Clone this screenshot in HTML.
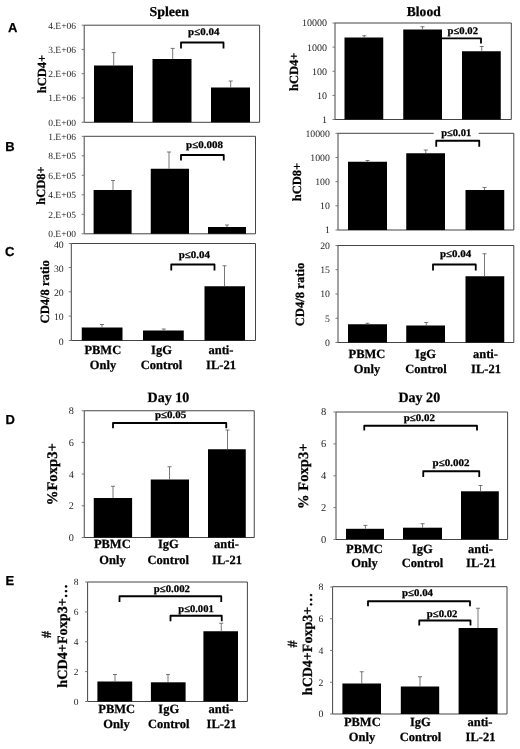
<!DOCTYPE html>
<html><head><meta charset="utf-8"><title>Figure</title>
<style>
html,body{margin:0;padding:0;background:#fff;}
body{width:520px;height:749px;overflow:hidden;}
svg{display:block;font-family:"Liberation Serif", serif;fill:#000;text-rendering:geometricPrecision;}
text[font-weight=bold]{stroke:#000;stroke-width:0.25px;}
</style></head><body>
<svg width="520" height="749" viewBox="0 0 520 749">
<rect width="520" height="749" fill="#fff"/>
<path d="M84.2 25.2V122.3H259.6V25.2" fill="none" stroke="#444" stroke-width="1"/>
<path d="M84.2 25.2H259.6" fill="none" stroke="#444" stroke-width="1"/>
<path d="M81.7 25.2H84.2" stroke="#777" stroke-width="1"/>
<text x="76" y="28.60" text-anchor="end" font-size="9.5" fill="#262626">4.E+06</text>
<path d="M81.7 49.5H84.2" stroke="#777" stroke-width="1"/>
<text x="76" y="52.90" text-anchor="end" font-size="9.5" fill="#262626">3.E+06</text>
<path d="M81.7 73.7H84.2" stroke="#777" stroke-width="1"/>
<text x="76" y="77.10" text-anchor="end" font-size="9.5" fill="#262626">2.E+06</text>
<path d="M81.7 98H84.2" stroke="#777" stroke-width="1"/>
<text x="76" y="101.40" text-anchor="end" font-size="9.5" fill="#262626">1.E+06</text>
<path d="M81.7 122.3H84.2" stroke="#777" stroke-width="1"/>
<text x="76" y="125.70" text-anchor="end" font-size="9.5" fill="#262626">0.E+00</text>
<rect x="94" y="65.5" width="39.00" height="56.80" fill="#000"/>
<path d="M113.7 65.5V52.6M111.7 52.6H115.7" stroke="#555" stroke-width="0.8" fill="none"/>
<rect x="152.5" y="59" width="39.00" height="63.30" fill="#000"/>
<path d="M172.7 59V48.4M170.7 48.4H174.7" stroke="#555" stroke-width="0.8" fill="none"/>
<rect x="211" y="87.5" width="39.00" height="34.80" fill="#000"/>
<path d="M230.7 87.5V81M228.7 81H232.7" stroke="#555" stroke-width="0.8" fill="none"/>
<path d="M181 48.5V42.5H223.5V48.5" stroke="#000" stroke-width="1.8" stroke-linejoin="round" fill="none"/>
<text x="188.1" y="35.25" font-size="10.1" font-weight="bold" textLength="31.30" lengthAdjust="spacingAndGlyphs">p≤0.04</text>
<text transform="translate(45.5 74) rotate(-90)" text-anchor="middle" font-size="12.5" font-weight="bold">hCD4+</text>
<text x="149.5" y="16" font-size="13.6" font-weight="bold" textLength="39.50" lengthAdjust="spacingAndGlyphs">Spleen</text>
<text x="7.9" y="31.5" font-family='"Liberation Sans", sans-serif' font-size="13" font-weight="bold">A</text>
<path d="M84.2 136.3V233.8H255.5V136.3" fill="none" stroke="#444" stroke-width="1"/>
<path d="M84.2 136.3H255.5" fill="none" stroke="#444" stroke-width="1"/>
<path d="M81.7 136.3H84.2" stroke="#777" stroke-width="1"/>
<text x="76" y="139.70" text-anchor="end" font-size="9.5" fill="#262626">1.E+06</text>
<path d="M81.7 155.8H84.2" stroke="#777" stroke-width="1"/>
<text x="76" y="159.20" text-anchor="end" font-size="9.5" fill="#262626">8.E+05</text>
<path d="M81.7 175.3H84.2" stroke="#777" stroke-width="1"/>
<text x="76" y="178.70" text-anchor="end" font-size="9.5" fill="#262626">6.E+05</text>
<path d="M81.7 194.8H84.2" stroke="#777" stroke-width="1"/>
<text x="76" y="198.20" text-anchor="end" font-size="9.5" fill="#262626">4.E+05</text>
<path d="M81.7 214.3H84.2" stroke="#777" stroke-width="1"/>
<text x="76" y="217.70" text-anchor="end" font-size="9.5" fill="#262626">2.E+05</text>
<path d="M81.7 233.8H84.2" stroke="#777" stroke-width="1"/>
<text x="76" y="237.20" text-anchor="end" font-size="9.5" fill="#262626">0.E+00</text>
<rect x="93.6" y="190" width="38.00" height="43.80" fill="#000"/>
<path d="M113 190V180.5M111 180.5H115" stroke="#555" stroke-width="0.8" fill="none"/>
<rect x="150.75" y="168.75" width="38.25" height="65.05" fill="#000"/>
<path d="M169 168.75V152M167 152H171" stroke="#555" stroke-width="0.8" fill="none"/>
<rect x="208" y="227" width="38.00" height="6.80" fill="#000"/>
<path d="M227 227V225M225 225H229" stroke="#555" stroke-width="0.8" fill="none"/>
<path d="M181 160.5V155H223.75V160.5" stroke="#000" stroke-width="1.8" stroke-linejoin="round" fill="none"/>
<text x="186" y="148" font-size="10.1" font-weight="bold" textLength="37.00" lengthAdjust="spacingAndGlyphs">p≤0.008</text>
<text transform="translate(45.3 185.6) rotate(-90)" text-anchor="middle" font-size="12.5" font-weight="bold">hCD8+</text>
<text x="5.3" y="150.8" font-family='"Liberation Sans", sans-serif' font-size="13" font-weight="bold">B</text>
<path d="M71.3 243.5V340.5H255.5V243.5" fill="none" stroke="#444" stroke-width="1"/>
<path d="M71.3 243.5H255.5" fill="none" stroke="#444" stroke-width="1"/>
<path d="M68.8 243.5H71.3" stroke="#777" stroke-width="1"/>
<text x="63.7" y="247.60" text-anchor="end" font-size="9.8" fill="#262626">40</text>
<path d="M68.8 267.5H71.3" stroke="#777" stroke-width="1"/>
<text x="63.7" y="271.60" text-anchor="end" font-size="9.8" fill="#262626">30</text>
<path d="M68.8 291.8H71.3" stroke="#777" stroke-width="1"/>
<text x="63.7" y="295.90" text-anchor="end" font-size="9.8" fill="#262626">20</text>
<path d="M68.8 316.1H71.3" stroke="#777" stroke-width="1"/>
<text x="63.7" y="320.20" text-anchor="end" font-size="9.8" fill="#262626">10</text>
<path d="M68.8 340.5H71.3" stroke="#777" stroke-width="1"/>
<text x="63.7" y="344.60" text-anchor="end" font-size="9.8" fill="#262626">0</text>
<rect x="81.75" y="327.5" width="40.75" height="13.00" fill="#000"/>
<path d="M102 327.5V324.5M100 324.5H104" stroke="#555" stroke-width="0.8" fill="none"/>
<rect x="143" y="330.5" width="40.75" height="10.00" fill="#000"/>
<path d="M163.75 330.5V329M161.75 329H165.75" stroke="#555" stroke-width="0.8" fill="none"/>
<rect x="204.5" y="286.25" width="40.50" height="54.25" fill="#000"/>
<path d="M224.5 286.25V265.75M222.5 265.75H226.5" stroke="#555" stroke-width="0.8" fill="none"/>
<path d="M171.25 270.5V264.5H214.5V270.5" stroke="#000" stroke-width="1.8" stroke-linejoin="round" fill="none"/>
<text x="178.75" y="257.5" font-size="10.1" font-weight="bold" textLength="31.25" lengthAdjust="spacingAndGlyphs">p≤0.04</text>
<text transform="translate(48.7 291.75) rotate(-90)" text-anchor="middle" font-size="12.6" font-weight="bold">CD4/8 ratio</text>
<text x="5.1" y="255.5" font-family='"Liberation Sans", sans-serif' font-size="13" font-weight="bold">C</text>
<text x="102.8" y="353.8" text-anchor="middle" font-size="12.5" font-weight="bold">PBMC</text>
<text x="103" y="368.5" text-anchor="middle" font-size="12.5" font-weight="bold">Only</text>
<text x="161.5" y="353.8" text-anchor="middle" font-size="12.5" font-weight="bold">IgG</text>
<text x="161.5" y="368.5" text-anchor="middle" font-size="12.5" font-weight="bold">Control</text>
<text x="221" y="353.8" text-anchor="middle" font-size="12.5" font-weight="bold">anti-</text>
<text x="221" y="368.5" text-anchor="middle" font-size="12.5" font-weight="bold">IL-21</text>
<path d="M335 23V119.5H511.3V23" fill="none" stroke="#444" stroke-width="1"/>
<path d="M335 23H511.3" fill="none" stroke="#444" stroke-width="1"/>
<path d="M332.5 23H335" stroke="#777" stroke-width="1"/>
<text x="327" y="26.40" text-anchor="end" font-size="10" fill="#262626">10000</text>
<path d="M332.5 47.1H335" stroke="#777" stroke-width="1"/>
<text x="327" y="50.50" text-anchor="end" font-size="10" fill="#262626">1000</text>
<path d="M332.5 71.25H335" stroke="#777" stroke-width="1"/>
<text x="327" y="74.65" text-anchor="end" font-size="10" fill="#262626">100</text>
<path d="M332.5 95.4H335" stroke="#777" stroke-width="1"/>
<text x="327" y="98.80" text-anchor="end" font-size="10" fill="#262626">10</text>
<path d="M332.5 119.5H335" stroke="#777" stroke-width="1"/>
<text x="327" y="122.90" text-anchor="end" font-size="10" fill="#262626">1</text>
<rect x="344.5" y="37.5" width="38.75" height="82.00" fill="#000"/>
<path d="M364.25 37.5V35.75M362.25 35.75H366.25" stroke="#555" stroke-width="0.8" fill="none"/>
<rect x="403.25" y="29.5" width="38.75" height="90.00" fill="#000"/>
<path d="M422.5 29.5V26.75M420.5 26.75H424.5" stroke="#555" stroke-width="0.8" fill="none"/>
<rect x="462" y="51.25" width="38.75" height="68.25" fill="#000"/>
<path d="M481.75 51.25V46.5M479.75 46.5H483.75" stroke="#555" stroke-width="0.8" fill="none"/>
<path d="M441.5 38.4H481V43.5" stroke="#000" stroke-width="1.8" stroke-linejoin="round" fill="none"/>
<text x="447.5" y="33.75" font-size="10.1" font-weight="bold" textLength="30.50" lengthAdjust="spacingAndGlyphs">p≤0.02</text>
<text transform="translate(297.5 71.8) rotate(-90)" text-anchor="middle" font-size="12.5" font-weight="bold">hCD4+</text>
<text x="406.8" y="16" font-size="13.6" font-weight="bold" textLength="33.90" lengthAdjust="spacingAndGlyphs">Blood</text>
<path d="M338 133.3V230H513.8V133.3" fill="none" stroke="#444" stroke-width="1"/>
<path d="M338 133.3H433.75M478.75 133.3H513.8" fill="none" stroke="#444" stroke-width="1"/>
<path d="M335.5 133.3H338" stroke="#777" stroke-width="1"/>
<text x="329.9" y="136.70" text-anchor="end" font-size="9.8" fill="#262626">10000</text>
<path d="M335.5 157.5H338" stroke="#777" stroke-width="1"/>
<text x="329.9" y="160.90" text-anchor="end" font-size="9.8" fill="#262626">1000</text>
<path d="M335.5 181.65H338" stroke="#777" stroke-width="1"/>
<text x="329.9" y="185.05" text-anchor="end" font-size="9.8" fill="#262626">100</text>
<path d="M335.5 205.8H338" stroke="#777" stroke-width="1"/>
<text x="329.9" y="209.20" text-anchor="end" font-size="9.8" fill="#262626">10</text>
<path d="M335.5 230H338" stroke="#777" stroke-width="1"/>
<text x="329.9" y="233.40" text-anchor="end" font-size="9.8" fill="#262626">1</text>
<rect x="348" y="161.75" width="39.00" height="68.25" fill="#000"/>
<path d="M367.5 161.75V160.5M365.5 160.5H369.5" stroke="#555" stroke-width="0.8" fill="none"/>
<rect x="406.25" y="153.25" width="38.75" height="76.75" fill="#000"/>
<path d="M425.75 153.25V150M423.75 150H427.75" stroke="#555" stroke-width="0.8" fill="none"/>
<rect x="465.5" y="190" width="38.75" height="40.00" fill="#000"/>
<path d="M484.5 190V187.5M482.5 187.5H486.5" stroke="#555" stroke-width="0.8" fill="none"/>
<path d="M436.25 146.75V140.75H479.25V146.75" stroke="#000" stroke-width="1.8" stroke-linejoin="round" fill="none"/>
<text x="441.25" y="135.5" font-size="10.1" font-weight="bold" textLength="30.00" lengthAdjust="spacingAndGlyphs">p≤0.01</text>
<text transform="translate(300.5 182) rotate(-90)" text-anchor="middle" font-size="12.5" font-weight="bold">hCD8+</text>
<path d="M338 245.5V342.5H513.8V245.5" fill="none" stroke="#444" stroke-width="1"/>
<path d="M338 245.5H513.8" fill="none" stroke="#444" stroke-width="1"/>
<path d="M335.5 245.5H338" stroke="#777" stroke-width="1"/>
<text x="330" y="248.90" text-anchor="end" font-size="9.8" fill="#262626">20</text>
<path d="M335.5 269.75H338" stroke="#777" stroke-width="1"/>
<text x="330" y="273.15" text-anchor="end" font-size="9.8" fill="#262626">15</text>
<path d="M335.5 294H338" stroke="#777" stroke-width="1"/>
<text x="330" y="297.40" text-anchor="end" font-size="9.8" fill="#262626">10</text>
<path d="M335.5 318.25H338" stroke="#777" stroke-width="1"/>
<text x="330" y="321.65" text-anchor="end" font-size="9.8" fill="#262626">5</text>
<path d="M335.5 342.5H338" stroke="#777" stroke-width="1"/>
<text x="330" y="345.90" text-anchor="end" font-size="9.8" fill="#262626">0</text>
<rect x="348" y="324.25" width="39.00" height="18.25" fill="#000"/>
<path d="M367.5 324.25V323.25M365.5 323.25H369.5" stroke="#555" stroke-width="0.8" fill="none"/>
<rect x="406.25" y="325.5" width="38.75" height="17.00" fill="#000"/>
<path d="M426.25 325.5V322.5M424.25 322.5H428.25" stroke="#555" stroke-width="0.8" fill="none"/>
<rect x="465.5" y="276.25" width="38.75" height="66.25" fill="#000"/>
<path d="M484.5 276.25V253.75M482.5 253.75H486.5" stroke="#555" stroke-width="0.8" fill="none"/>
<path d="M433 270.5V264.5H475.75V270.5" stroke="#000" stroke-width="1.8" stroke-linejoin="round" fill="none"/>
<text x="440" y="256.75" font-size="10.1" font-weight="bold" textLength="31.25" lengthAdjust="spacingAndGlyphs">p≤0.04</text>
<text transform="translate(304.2 294.5) rotate(-90)" text-anchor="middle" font-size="12.65" font-weight="bold">CD4/8 ratio</text>
<text x="367" y="358.4" text-anchor="middle" font-size="12.5" font-weight="bold">PBMC</text>
<text x="367" y="372.6" text-anchor="middle" font-size="12.5" font-weight="bold">Only</text>
<text x="425.5" y="358.4" text-anchor="middle" font-size="12.5" font-weight="bold">IgG</text>
<text x="426" y="372.6" text-anchor="middle" font-size="12.5" font-weight="bold">Control</text>
<text x="485.5" y="358.4" text-anchor="middle" font-size="12.5" font-weight="bold">anti-</text>
<text x="486" y="372.6" text-anchor="middle" font-size="12.5" font-weight="bold">IL-21</text>
<path d="M84.25 410.75V537.5H254.25V410.75" fill="none" stroke="#444" stroke-width="1"/>
<path d="M84.25 410.75H254.25" fill="none" stroke="#444" stroke-width="1"/>
<path d="M81.75 410.75H84.25" stroke="#777" stroke-width="1"/>
<text x="73.8" y="414.15" text-anchor="end" font-size="10.2" fill="#262626">8</text>
<path d="M81.75 442.4H84.25" stroke="#777" stroke-width="1"/>
<text x="73.8" y="445.80" text-anchor="end" font-size="10.2" fill="#262626">6</text>
<path d="M81.75 474.1H84.25" stroke="#777" stroke-width="1"/>
<text x="73.8" y="477.50" text-anchor="end" font-size="10.2" fill="#262626">4</text>
<path d="M81.75 505.8H84.25" stroke="#777" stroke-width="1"/>
<text x="73.8" y="509.20" text-anchor="end" font-size="10.2" fill="#262626">2</text>
<path d="M81.75 537.5H84.25" stroke="#777" stroke-width="1"/>
<text x="73.8" y="540.90" text-anchor="end" font-size="10.2" fill="#262626">0</text>
<rect x="93.75" y="498" width="38.35" height="39.50" fill="#000"/>
<path d="M113 498V486.25M111 486.25H115" stroke="#555" stroke-width="0.8" fill="none"/>
<rect x="150.75" y="479.5" width="38.25" height="58.00" fill="#000"/>
<path d="M169.5 479.5V466.75M167.5 466.75H171.5" stroke="#555" stroke-width="0.8" fill="none"/>
<rect x="208" y="449.25" width="37.75" height="88.25" fill="#000"/>
<path d="M227.5 449.25V430M225.5 430H229.5" stroke="#555" stroke-width="0.8" fill="none"/>
<path d="M113 428.3V423H226.25V428.3" stroke="#000" stroke-width="1.8" stroke-linejoin="round" fill="none"/>
<text x="155" y="418" font-size="10.1" font-weight="bold" textLength="31.25" lengthAdjust="spacingAndGlyphs">p≤0.05</text>
<text transform="translate(56.5 474.2) rotate(-90)" text-anchor="middle" font-size="14.7" font-weight="bold">%Foxp3+</text>
<text x="147.5" y="402" font-size="14.2" font-weight="bold" textLength="41.75" lengthAdjust="spacingAndGlyphs">Day 10</text>
<text x="5.4" y="423.8" font-family='"Liberation Sans", sans-serif' font-size="13" font-weight="bold">D</text>
<text x="112.3" y="548.4" text-anchor="middle" font-size="12.5" font-weight="bold">PBMC</text>
<text x="112.5" y="563.5" text-anchor="middle" font-size="12.5" font-weight="bold">Only</text>
<text x="168.3" y="548.4" text-anchor="middle" font-size="12.5" font-weight="bold">IgG</text>
<text x="168.3" y="563.5" text-anchor="middle" font-size="12.5" font-weight="bold">Control</text>
<text x="226.5" y="548.4" text-anchor="middle" font-size="12.5" font-weight="bold">anti-</text>
<text x="227" y="563.5" text-anchor="middle" font-size="12.5" font-weight="bold">IL-21</text>
<path d="M336 412V539.5H507.6V412" fill="none" stroke="#444" stroke-width="1"/>
<path d="M336 412H507.6" fill="none" stroke="#444" stroke-width="1"/>
<path d="M333.5 412H336" stroke="#777" stroke-width="1"/>
<text x="326.3" y="415.10" text-anchor="end" font-size="10.5" fill="#262626">8</text>
<path d="M333.5 443.9H336" stroke="#777" stroke-width="1"/>
<text x="326.3" y="447.00" text-anchor="end" font-size="10.5" fill="#262626">6</text>
<path d="M333.5 475.8H336" stroke="#777" stroke-width="1"/>
<text x="326.3" y="478.90" text-anchor="end" font-size="10.5" fill="#262626">4</text>
<path d="M333.5 507.6H336" stroke="#777" stroke-width="1"/>
<text x="326.3" y="510.70" text-anchor="end" font-size="10.5" fill="#262626">2</text>
<path d="M333.5 539.5H336" stroke="#777" stroke-width="1"/>
<text x="326.3" y="542.60" text-anchor="end" font-size="10.5" fill="#262626">0</text>
<rect x="346" y="528.8" width="38.00" height="10.50" fill="#000"/>
<path d="M365.4 528.8V525.4M363.4 525.4H367.4" stroke="#555" stroke-width="0.8" fill="none"/>
<rect x="403" y="527.7" width="39.00" height="11.60" fill="#000"/>
<path d="M422.6 527.7V523.7M420.6 523.7H424.6" stroke="#555" stroke-width="0.8" fill="none"/>
<rect x="461" y="491.3" width="37.80" height="48.00" fill="#000"/>
<path d="M480.5 491.3V485.5M478.5 485.5H482.5" stroke="#555" stroke-width="0.8" fill="none"/>
<path d="M364.25 430.5V425.75H477V430.5" stroke="#000" stroke-width="1.8" stroke-linejoin="round" fill="none"/>
<text x="403.75" y="420.75" font-size="10.1" font-weight="bold" textLength="31.25" lengthAdjust="spacingAndGlyphs">p≤0.02</text>
<path d="M423.25 477V471.25H479.25V477" stroke="#000" stroke-width="1.8" stroke-linejoin="round" fill="none"/>
<text x="432.5" y="465.5" font-size="10.1" font-weight="bold" textLength="37.00" lengthAdjust="spacingAndGlyphs">p≤0.002</text>
<text transform="translate(307.8 476.2) rotate(-90)" text-anchor="middle" font-size="14.6" font-weight="bold">% Foxp3+</text>
<text x="398.4" y="402" font-size="14.2" font-weight="bold" textLength="41.80" lengthAdjust="spacingAndGlyphs">Day 20</text>
<text x="364.5" y="552.6" text-anchor="middle" font-size="12.5" font-weight="bold">PBMC</text>
<text x="364.5" y="567.3" text-anchor="middle" font-size="12.5" font-weight="bold">Only</text>
<text x="422.3" y="552.6" text-anchor="middle" font-size="12.5" font-weight="bold">IgG</text>
<text x="422.5" y="567.3" text-anchor="middle" font-size="12.5" font-weight="bold">Control</text>
<text x="480.5" y="552.6" text-anchor="middle" font-size="12.5" font-weight="bold">anti-</text>
<text x="481" y="567.3" text-anchor="middle" font-size="12.5" font-weight="bold">IL-21</text>
<path d="M87.6 582V701.5H247.4V582" fill="none" stroke="#444" stroke-width="1"/>
<path d="M87.6 582H247.4" fill="none" stroke="#444" stroke-width="1"/>
<path d="M85.1 582H87.6" stroke="#777" stroke-width="1"/>
<text x="78.4" y="585.40" text-anchor="end" font-size="9.5" fill="#262626">8</text>
<path d="M85.1 611.9H87.6" stroke="#777" stroke-width="1"/>
<text x="78.4" y="615.30" text-anchor="end" font-size="9.5" fill="#262626">6</text>
<path d="M85.1 641.75H87.6" stroke="#777" stroke-width="1"/>
<text x="78.4" y="645.15" text-anchor="end" font-size="9.5" fill="#262626">4</text>
<path d="M85.1 671.6H87.6" stroke="#777" stroke-width="1"/>
<text x="78.4" y="675.00" text-anchor="end" font-size="9.5" fill="#262626">2</text>
<path d="M85.1 701.5H87.6" stroke="#777" stroke-width="1"/>
<text x="78.4" y="704.90" text-anchor="end" font-size="9.5" fill="#262626">0</text>
<rect x="97.4" y="681.5" width="34.80" height="20.00" fill="#000"/>
<path d="M115 681.5V674.5M113 674.5H117" stroke="#555" stroke-width="0.8" fill="none"/>
<rect x="150.9" y="682.3" width="34.70" height="19.20" fill="#000"/>
<path d="M168 682.3V674.5M166 674.5H170" stroke="#555" stroke-width="0.8" fill="none"/>
<rect x="203.4" y="631.25" width="34.60" height="70.25" fill="#000"/>
<path d="M221.25 631.25V623.25M219.25 623.25H223.25" stroke="#555" stroke-width="0.8" fill="none"/>
<path d="M119.5 602V596.25H221.25V602" stroke="#000" stroke-width="1.8" stroke-linejoin="round" fill="none"/>
<text x="153.75" y="592" font-size="10.1" font-weight="bold" textLength="36.25" lengthAdjust="spacingAndGlyphs">p≤0.002</text>
<path d="M170.5 621.25V615.75H221.75V621.25" stroke="#000" stroke-width="1.8" stroke-linejoin="round" fill="none"/>
<text x="178.25" y="612" font-size="10.1" font-weight="bold" textLength="35.50" lengthAdjust="spacingAndGlyphs">p≤0.001</text>
<text transform="translate(51 634.6) rotate(-90)" text-anchor="middle" font-size="14" font-weight="bold">#</text>
<text transform="translate(67 635.8) rotate(-90)" text-anchor="middle" font-size="14.2" font-weight="bold">hCD4+Foxp3+…</text>
<text x="5.4" y="585.2" font-family='"Liberation Sans", sans-serif' font-size="13" font-weight="bold">E</text>
<text x="116.75" y="713.2" text-anchor="middle" font-size="12.5" font-weight="bold">PBMC</text>
<text x="116.5" y="728" text-anchor="middle" font-size="12.5" font-weight="bold">Only</text>
<text x="168.75" y="713.2" text-anchor="middle" font-size="12.5" font-weight="bold">IgG</text>
<text x="168.7" y="728" text-anchor="middle" font-size="12.5" font-weight="bold">Control</text>
<text x="221" y="713.2" text-anchor="middle" font-size="12.5" font-weight="bold">anti-</text>
<text x="221.5" y="728" text-anchor="middle" font-size="12.5" font-weight="bold">IL-21</text>
<path d="M332.6 586.7V714H507V586.7" fill="none" stroke="#444" stroke-width="1"/>
<path d="M332.6 586.7H507" fill="none" stroke="#444" stroke-width="1"/>
<path d="M330.1 587H332.6" stroke="#777" stroke-width="1"/>
<text x="323.3" y="590.40" text-anchor="end" font-size="9.8" fill="#262626">8</text>
<path d="M330.1 618.75H332.6" stroke="#777" stroke-width="1"/>
<text x="323.3" y="622.15" text-anchor="end" font-size="9.8" fill="#262626">6</text>
<path d="M330.1 650.5H332.6" stroke="#777" stroke-width="1"/>
<text x="323.3" y="653.90" text-anchor="end" font-size="9.8" fill="#262626">4</text>
<path d="M330.1 682.25H332.6" stroke="#777" stroke-width="1"/>
<text x="323.3" y="685.65" text-anchor="end" font-size="9.8" fill="#262626">2</text>
<path d="M330.1 714H332.6" stroke="#777" stroke-width="1"/>
<text x="323.3" y="717.40" text-anchor="end" font-size="9.8" fill="#262626">0</text>
<rect x="342.4" y="683.5" width="38.60" height="30.50" fill="#000"/>
<path d="M361.75 683.5V671.75M359.75 671.75H363.75" stroke="#555" stroke-width="0.8" fill="none"/>
<rect x="400.8" y="686.5" width="38.40" height="27.50" fill="#000"/>
<path d="M420 686.5V676.75M418 676.75H422" stroke="#555" stroke-width="0.8" fill="none"/>
<rect x="458.6" y="628" width="39.00" height="86.00" fill="#000"/>
<path d="M478 628V608.25M476 608.25H480" stroke="#555" stroke-width="0.8" fill="none"/>
<path d="M368 606.25V601.25H470V606.25" stroke="#000" stroke-width="1.8" stroke-linejoin="round" fill="none"/>
<text x="402" y="596.25" font-size="10.1" font-weight="bold" textLength="31.00" lengthAdjust="spacingAndGlyphs">p≤0.04</text>
<path d="M419.25 625.5V620.5H470.5V625.5" stroke="#000" stroke-width="1.8" stroke-linejoin="round" fill="none"/>
<text x="426.75" y="616.75" font-size="10.1" font-weight="bold" textLength="30.75" lengthAdjust="spacingAndGlyphs">p≤0.02</text>
<text transform="translate(296.5 644) rotate(-90)" text-anchor="middle" font-size="14" font-weight="bold">#</text>
<text transform="translate(312 644) rotate(-90)" text-anchor="middle" font-size="14" font-weight="bold">hCD4+Foxp3+…</text>
<text x="362.3" y="725.8" text-anchor="middle" font-size="12.5" font-weight="bold">PBMC</text>
<text x="362" y="740.8" text-anchor="middle" font-size="12.5" font-weight="bold">Only</text>
<text x="420.4" y="725.8" text-anchor="middle" font-size="12.5" font-weight="bold">IgG</text>
<text x="420.5" y="740.8" text-anchor="middle" font-size="12.5" font-weight="bold">Control</text>
<text x="480" y="725.8" text-anchor="middle" font-size="12.5" font-weight="bold">anti-</text>
<text x="480.5" y="740.8" text-anchor="middle" font-size="12.5" font-weight="bold">IL-21</text>
</svg>
</body></html>
